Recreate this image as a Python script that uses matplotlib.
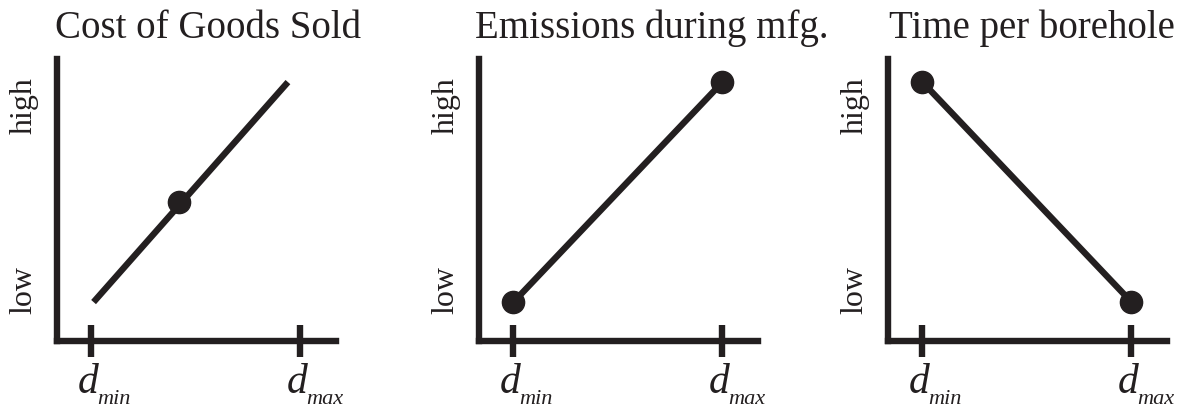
import matplotlib
matplotlib.use("Agg")
import matplotlib.pyplot as plt

# data: x in units of d (0 = d_min, 1 = d_max), y in units of level (0 = low, 1 = high)
titles = ["Cost of Goods Sold", "Emissions during mfg.", "Time per borehole"]
line_x = [[0.01, 0.94], [0.0, 1.0], [0.0, 1.0]]
line_y = [[0.0, 1.0], [0.0, 1.0], [1.0, 0.0]]
dot_x = [[0.42], [0.0, 1.0], [0.0, 1.0]]
dot_y = [[0.455], [0.0, 1.0], [1.0, 0.0]]
tick_pos = [0.0, 1.0]
tick_sub = ["min", "max"]
level_pos = [0.06, 0.9]
level_labels = ["low", "high"]

INK = "#231f20"
SERIF = ["Liberation Serif", "DejaVu Serif"]
W, H = 1179, 410

fig = plt.figure(figsize=(W / 100, H / 100), dpi=100)

axes_left = [57, 479, 888]      # pixel x of each y-axis
title_cx = [208, 652, 1032]     # pixel x of each title centre
ax_w = 279
ax_bottom, ax_top = 342, 60

for i in range(3):
    ax = fig.add_axes([axes_left[i] / W, (H - ax_bottom) / H,
                       ax_w / W, (ax_bottom - ax_top) / H])
    ax.set_xlim(-0.165, 1.17)
    ax.set_ylim(-0.177, 1.105)

    ax.plot(line_x[i], line_y[i], color=INK, lw=4.6, solid_capstyle="butt")
    ax.plot(dot_x[i], dot_y[i], "o", color=INK, ms=16, mec=INK)

    for s in ["top", "right"]:
        ax.spines[s].set_visible(False)
    for s in ["left", "bottom"]:
        ax.spines[s].set_linewidth(4.6)
        ax.spines[s].set_color(INK)
        ax.spines[s].set_capstyle("projecting")

    ax.set_xticks(tick_pos)
    ax.set_xticklabels([])
    ax.set_yticks([])
    ax.tick_params(axis="x", direction="inout", length=23, width=4.6, color=INK)

    # d_min / d_max labels
    for xp, sub in zip(tick_pos, tick_sub):
        ax.annotate("d", xy=(xp, 0), xycoords=("data", "axes fraction"),
                    xytext=(-3, -51), textcoords="offset pixels",
                    ha="center", va="baseline", fontsize=30, style="italic",
                    family=SERIF, color=INK)
        ax.annotate(sub, xy=(xp, 0), xycoords=("data", "axes fraction"),
                    xytext=(6, -62), textcoords="offset pixels",
                    ha="left", va="baseline", fontsize=16, style="italic",
                    family=SERIF, color=INK)

    for yp, lab in zip(level_pos, level_labels):
        ax.annotate(lab, xy=(0, yp), xycoords=("axes fraction", "data"),
                    xytext=(-33, 0), textcoords="offset pixels",
                    ha="center", va="center", rotation=90, fontsize=23,
                    family=SERIF, color=INK)

    fig.text(title_cx[i] / W, 1 - 38 / H, titles[i], ha="center",
             va="baseline", fontsize=28, family=SERIF, color=INK)

fig.savefig("out.png", dpi=100)
